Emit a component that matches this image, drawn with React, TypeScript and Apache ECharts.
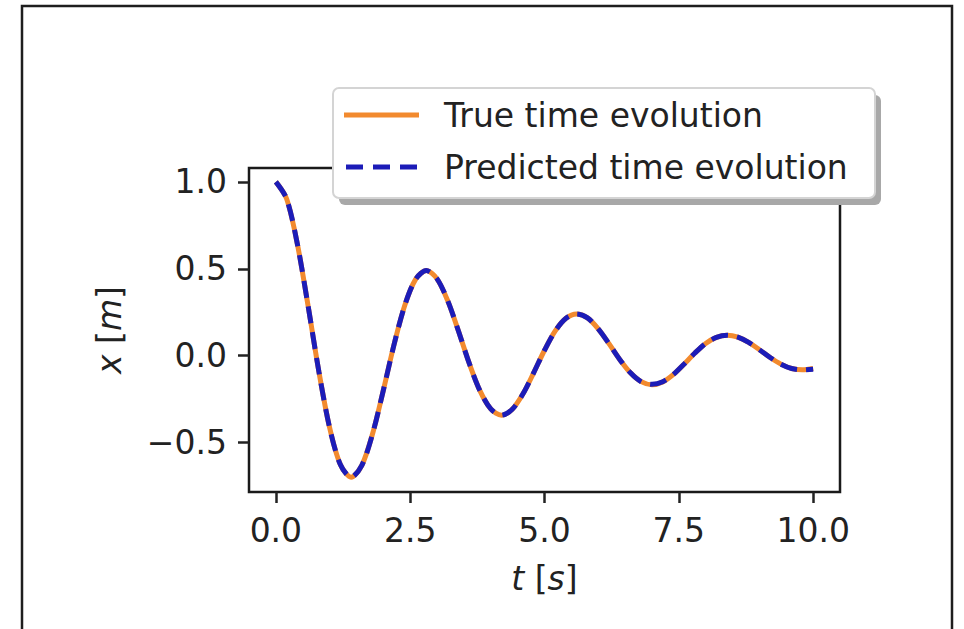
import React, { useEffect, useRef } from "react";
import * as echarts from "echarts";

// time samples [s]
const tValues = [
  0, 0.2, 0.4, 0.6, 0.8, 1.0, 1.2, 1.4, 1.6, 1.8,
  2.0, 2.2, 2.4, 2.6, 2.8, 3.0, 3.2, 3.4, 3.6, 3.8,
  4.0, 4.2, 4.4, 4.6, 4.8, 5.0, 5.2, 5.4, 5.6, 5.8,
  6.0, 6.2, 6.4, 6.6, 6.8, 7.0, 7.2, 7.4, 7.6, 7.8,
  8.0, 8.2, 8.4, 8.6, 8.8, 9.0, 9.2, 9.4, 9.6, 9.8, 10.0,
];

// true time evolution x [m]
const trueX = [
  1.0, 0.903, 0.643, 0.286, -0.091, -0.414, -0.627, -0.7, -0.632, -0.45,
  -0.2, 0.064, 0.29, 0.439, 0.49, 0.442, 0.315, 0.14, -0.045, -0.203,
  -0.307, -0.343, -0.309, -0.22, -0.098, 0.031, 0.142, 0.215, 0.24, 0.217,
  0.154, 0.069, -0.022, -0.099, -0.15, -0.168, -0.152, -0.108, -0.048, 0.015,
  0.07, 0.105, 0.117, 0.106, 0.076, 0.034, -0.011, -0.049, -0.074, -0.082, -0.074,
];

// predicted time evolution x [m]
const predX = [
  1.0, 0.903, 0.643, 0.286, -0.091, -0.414, -0.627, -0.7, -0.632, -0.45,
  -0.2, 0.064, 0.29, 0.439, 0.49, 0.442, 0.315, 0.14, -0.045, -0.203,
  -0.307, -0.343, -0.309, -0.22, -0.098, 0.031, 0.142, 0.215, 0.24, 0.217,
  0.154, 0.069, -0.022, -0.099, -0.15, -0.165, -0.15, -0.108, -0.048, 0.015,
  0.07, 0.105, 0.117, 0.106, 0.076, 0.034, -0.011, -0.049, -0.074, -0.082, -0.078,
];

const xTicks = [0, 2.5, 5, 7.5, 10];
const yTicks = [-0.5, 0, 0.5, 1.0];

const seriesNames = ["True time evolution", "Predicted time evolution"];

const FONT = "DejaVu Sans";
const INK = "#222222";
const ORANGE = "#f28a2e";
const BLUE = "#1c1cb8";

export default function App() {
  const ref = useRef<HTMLDivElement>(null);

  useEffect(() => {
    if (!ref.current) return;
    const chart = echarts.init(ref.current, null, { renderer: "svg" });

    const nameStyle = {
      fontFamily: FONT,
      fontSize: 33,
      color: INK,
      rich: { i: { fontFamily: FONT, fontSize: 33, fontStyle: "italic", color: INK } },
    };

    chart.setOption({
      animation: false,
      backgroundColor: "#ffffff",
      grid: {
        left: 249,
        right: 124,
        top: 168,
        bottom: 137,
        show: true,
        borderColor: "#1a1a1a",
        borderWidth: 2.5,
        backgroundColor: "transparent",
      },
      xAxis: {
        type: "value",
        min: -0.5,
        max: 10.5,
        axisLine: { show: false, onZero: false },
        splitLine: { show: false },
        nameLocation: "middle",
        name: "{i|t} [{i|s}]",
        nameGap: 70,
        nameTextStyle: nameStyle,
        axisTick: {
          show: true,
          inside: false,
          length: 11,
          customValues: xTicks,
          lineStyle: { color: INK, width: 2.5 },
        },
        axisLabel: {
          customValues: xTicks,
          margin: 22,
          fontFamily: FONT,
          fontSize: 33,
          color: INK,
          formatter: (v: number) => v.toFixed(1),
        },
      },
      yAxis: {
        type: "value",
        min: -0.785,
        max: 1.08,
        axisLine: { show: false, onZero: false },
        splitLine: { show: false },
        nameLocation: "middle",
        name: "{i|x} [{i|m}]",
        nameRotate: 90,
        nameGap: 123,
        nameTextStyle: nameStyle,
        axisTick: {
          show: true,
          inside: false,
          length: 11,
          customValues: yTicks,
          lineStyle: { color: INK, width: 2.5 },
        },
        axisLabel: {
          customValues: yTicks,
          margin: 22,
          fontFamily: FONT,
          fontSize: 33,
          color: INK,
          formatter: (v: number) => v.toFixed(1).replace("-", "\u2212"),
        },
      },
      legend: {
        orient: "vertical",
        left: 344,
        top: 95,
        padding: 0,
        itemWidth: 75,
        itemHeight: 5,
        itemGap: 12,
        z: 20,
        data: [
          { name: seriesNames[0], icon: "rect", itemStyle: { color: ORANGE } },
          {
            name: seriesNames[1],
            icon: "path://M0,0H17V5H0Z M27,0H44V5H27Z M54,0H71V5H54Z",
            itemStyle: { color: BLUE },
          },
        ],
        textStyle: {
          fontFamily: FONT,
          fontSize: 33,
          color: INK,
          lineHeight: 40,
          padding: [0, 0, 0, 20],
        },
      },
      graphic: [
        {
          type: "rect",
          silent: true,
          z: 0,
          shape: { x: 22, y: 6, width: 930, height: 700 },
          style: { fill: "none", stroke: "#1e1e1e", lineWidth: 2.5 },
        },
        {
          type: "rect",
          silent: true,
          z: 10,
          shape: { x: 339, y: 95, width: 542, height: 110, r: 6 },
          style: { fill: "#a8a8a8" },
        },
        {
          type: "rect",
          silent: true,
          z: 11,
          shape: { x: 333, y: 88, width: 542, height: 110, r: 6 },
          style: { fill: "#ffffff", stroke: "#d4d4d4", lineWidth: 2 },
        },
      ],
      series: [
        {
          name: seriesNames[0],
          type: "line",
          symbol: "none",
          smooth: 0.3,
          data: tValues.map((t, i) => [t, trueX[i]]),
          lineStyle: { color: ORANGE, width: 5 },
          itemStyle: { color: ORANGE },
          z: 2,
        },
        {
          name: seriesNames[1],
          type: "line",
          symbol: "none",
          smooth: 0.3,
          data: tValues.map((t, i) => [t, predX[i]]),
          lineStyle: { color: BLUE, width: 5, type: [17, 9] },
          itemStyle: { color: BLUE },
          z: 3,
        },
      ],
    });

    return () => chart.dispose();
  }, []);

  return (
    <div
      ref={ref}
      style={{ position: "absolute", left: 0, top: 0, width: 964, height: 629, background: "#fff" }}
    />
  );
}
